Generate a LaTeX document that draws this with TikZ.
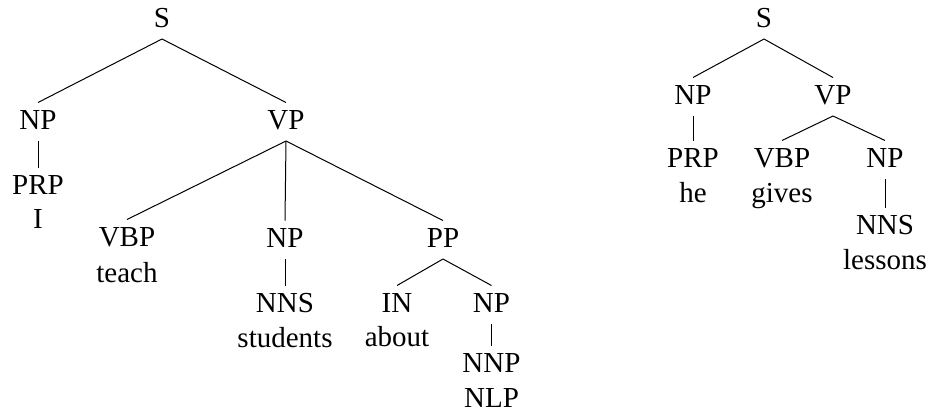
\documentclass[tikz,border=0pt]{standalone}
\usepackage{fontspec}
\setmainfont{Liberation Serif}
\newcommand\treeedge[2]{\draw[edge] ([yshift=-12pt]#1.base) -- ([yshift=26.5pt]#2.base);}
\begin{document}
\begin{tikzpicture}[x=1pt,y=-1pt,
  lbl/.style={anchor=base,inner sep=0pt,font=\fontsize{29}{35}\selectfont},
  edge/.style={line width=1pt}]
\useasboundingbox (0,0) rectangle (931,413);
% left tree
\node[lbl] (lS) at (162,27) {S};
\node[lbl] (lNP) at (38,129) {NP};
\node[lbl] (lVP) at (286,129) {VP};
\node[lbl] (lPRP) at (38,194) {PRP};
\node[lbl] (lI) at (38,228) {I};
\node[lbl] (lVBP) at (127,246) {VBP};
\node[lbl] (lteach) at (127,282) {teach};
\node[lbl] (lNP2) at (285,247) {NP};
\node[lbl] (lNNS) at (285,312) {NNS};
\node[lbl] (lstudents) at (285,347) {students};
\node[lbl] (lPP) at (443,247) {PP};
\node[lbl] (lIN) at (397,312) {IN};
\node[lbl] (labout) at (397,346) {about};
\node[lbl] (lNP3) at (491.5,312) {NP};
\node[lbl] (lNNP) at (491.5,372) {NNP};
\node[lbl] (lNLP) at (491.5,407) {NLP};
\treeedge{lS}{lNP}
\treeedge{lS}{lVP}
\treeedge{lNP}{lPRP}
\treeedge{lVP}{lVBP}
\treeedge{lVP}{lNP2}
\treeedge{lVP}{lPP}
\treeedge{lNP2}{lNNS}
\treeedge{lPP}{lIN}
\treeedge{lPP}{lNP3}
\treeedge{lNP3}{lNNP}
% right tree
\node[lbl] (rS) at (764,27) {S};
\node[lbl] (rNP) at (693,104) {NP};
\node[lbl] (rVP) at (833,104) {VP};
\node[lbl] (rPRP) at (693,167) {PRP};
\node[lbl] (rhe) at (693,202) {he};
\node[lbl] (rVBP) at (782,167) {VBP};
\node[lbl] (rgives) at (782,202) {gives};
\node[lbl] (rNP2) at (885,167) {NP};
\node[lbl] (rNNS) at (885,234) {NNS};
\node[lbl] (rlessons) at (885,269) {lessons};
\treeedge{rS}{rNP}
\treeedge{rS}{rVP}
\treeedge{rNP}{rPRP}
\treeedge{rVP}{rVBP}
\treeedge{rVP}{rNP2}
\treeedge{rNP2}{rNNS}
\end{tikzpicture}
\end{document}
